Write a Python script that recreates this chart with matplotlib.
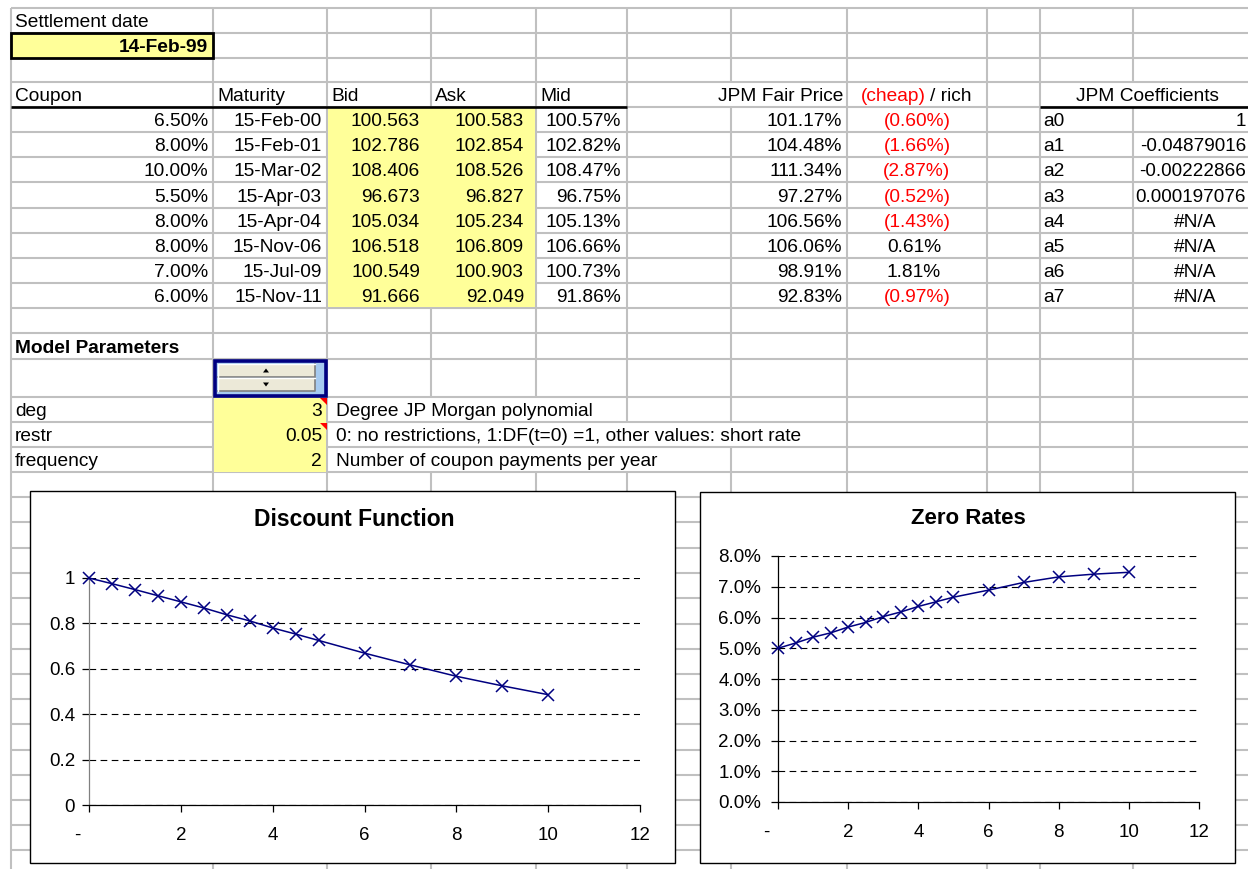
import matplotlib
matplotlib.use("Agg")
import matplotlib.pyplot as plt
from matplotlib.patches import Rectangle, Polygon
from matplotlib.collections import LineCollection

plt.rcParams['font.family'] = ['Liberation Sans', 'DejaVu Sans']

# ---------------- data ----------------
settlement_date = "14-Feb-99"
header = ["Coupon", "Maturity", "Bid", "Ask", "Mid"]
coupons = ["6.50%", "8.00%", "10.00%", "5.50%", "8.00%", "8.00%", "7.00%", "6.00%"]
maturities = ["15-Feb-00", "15-Feb-01", "15-Mar-02", "15-Apr-03",
              "15-Apr-04", "15-Nov-06", "15-Jul-09", "15-Nov-11"]
bid = [100.563, 102.786, 108.406, 96.673, 105.034, 106.518, 100.549, 91.666]
ask = [100.583, 102.854, 108.526, 96.827, 105.234, 106.809, 100.903, 92.049]
mid = [100.57, 102.82, 108.47, 96.75, 105.13, 106.66, 100.73, 91.86]
fair_price = [101.17, 104.48, 111.34, 97.27, 106.56, 106.06, 98.91, 92.83]
cheap_rich = [-0.60, -1.66, -2.87, -0.52, -1.43, 0.61, 1.81, -0.97]
coef_names = ["a0", "a1", "a2", "a3", "a4", "a5", "a6", "a7"]
coef_values = ["1", "-0.04879016", "-0.00222866", "0.000197076",
               "#N/A", "#N/A", "#N/A", "#N/A"]
param_names = ["deg", "restr", "frequency"]
param_values = ["3", "0.05", "2"]
param_desc = ["Degree JP Morgan polynomial",
              "0: no restrictions, 1:DF(t=0) =1, other values: short rate",
              "Number of coupon payments per year"]

t_years = [0, 0.5, 1, 1.5, 2, 2.5, 3, 3.5, 4, 4.5, 5, 6, 7, 8, 9, 10]
discount = [1.0, 0.975, 0.949, 0.922, 0.895, 0.868, 0.838, 0.811,
            0.780, 0.753, 0.725, 0.669, 0.617, 0.567, 0.525, 0.486]
zero_rates = [5.00, 5.17, 5.36, 5.50, 5.69, 5.84, 6.03, 6.18,
              6.36, 6.51, 6.66, 6.89, 7.14, 7.32, 7.41, 7.47]
x_ticks = [0, 2, 4, 6, 8, 10, 12]
x_tick_labels = ["-    ", "2", "4", "6", "8", "10", "12"]
df_ticks = [0, 0.2, 0.4, 0.6, 0.8, 1.0]
df_tick_labels = ["0", "0.2", "0.4", "0.6", "0.8", "1"]
zr_ticks = [0, 1, 2, 3, 4, 5, 6, 7, 8]

# ---------------- layout ----------------
W, H = 1248, 869
fig = plt.figure(figsize=(W / 100, H / 100), dpi=100)
fig.patch.set_facecolor("white")
bg = fig.add_axes([0, 0, 1, 1])
bg.set_xlim(0, W)
bg.set_ylim(H, 0)
bg.axis("off")

rows = [8, 33, 58, 82, 107, 132, 157, 182, 208, 233, 258, 283, 308, 333, 359,
        397, 422, 447, 472, 497, 522, 548, 573, 598, 624, 649, 674, 699, 724,
        750, 775, 800, 825, 850, 875]
cols = [11, 213, 327, 431, 536, 627, 731, 847, 987, 1040, 1133, 1257, 1300]

hidden_v = {(731, 3), (1133, 3),
            (431, 15), (536, 15),
            (431, 16), (536, 16), (627, 16), (731, 16),
            (431, 17), (536, 17), (627, 17)}
GRID = "#c0c0c0"
segs = []
for x in cols:
    for i in range(len(rows) - 1):
        if (x, i) in hidden_v:
            continue
        segs.append([(x, rows[i]), (x, rows[i + 1])])
for y in rows:
    segs.append([(cols[0], y), (cols[-1], y)])
bg.add_collection(LineCollection(segs, colors=GRID, linewidths=1.5, zorder=1))

YEL = "#ffff99"
# yellow regions
bg.add_patch(Rectangle((328, 108), 207, 199, facecolor=YEL, edgecolor="none", zorder=2))
bg.add_patch(Rectangle((214, 398), 112, 74, facecolor=YEL, edgecolor="none", zorder=2))
bg.add_patch(Rectangle((11, 33), 202, 25, facecolor=YEL, edgecolor="black",
                       linewidth=2.0, zorder=3))

# thick header borders
bg.plot([11, 627], [107, 107], color="black", lw=1.9, zorder=3, solid_capstyle="butt")
bg.plot([1040, 1248], [107, 107], color="black", lw=1.9, zorder=3, solid_capstyle="butt")

FS = 13.8


def txt(x, row, s, ha="left", bold=False, color="black", size=FS):
    bg.text(x, rows[row + 1] - 6.0, s, ha=ha, va="baseline", fontsize=size,
            fontweight="bold" if bold else "normal", color=color, zorder=4,
            clip_on=True)


txt(15, 0, "Settlement date")
txt(208, 1, settlement_date, ha="right", bold=True)

txt(15, 3, header[0])
txt(217, 3, header[1])
txt(331, 3, header[2])
txt(435, 3, header[3])
txt(540, 3, header[4])
txt(843, 3, "JPM Fair Price", ha="right")
txt(926, 3, "(cheap)", ha="right", color="red")
txt(930, 3, "/ rich", ha="left")
txt(1148, 3, "JPM Coefficients", ha="center")

for k in range(8):
    row = 4 + k
    txt(208, row, coupons[k], ha="right")
    txt(322, row, maturities[k], ha="right")
    txt(420, row, f"{bid[k]:.3f}", ha="right")
    txt(524, row, f"{ask[k]:.3f}", ha="right")
    txt(621, row, f"{mid[k]:.2f}%", ha="right")
    txt(842, row, f"{fair_price[k]:.2f}%", ha="right")
    v = cheap_rich[k]
    if v < 0:
        txt(917, row, f"({abs(v):.2f}%)", ha="center", color="red")
    else:
        txt(914, row, f"{v:.2f}%", ha="center")
    txt(1043, row, coef_names[k])
    cv = coef_values[k]
    if cv.startswith("#"):
        txt(1195, row, cv, ha="center")
    else:
        txt(1246, row, cv, ha="right", size=13.6)

txt(15, 13, "Model Parameters", bold=True)
for k in range(3):
    row = 15 + k
    txt(15, row, param_names[k])
    txt(322, row, param_values[k], ha="right")
    txt(336, row, param_desc[k])
# comment indicators
for row in (15, 16):
    y0 = rows[row]
    bg.add_patch(Polygon([(320, y0 + 1), (327, y0 + 1), (327, y0 + 8)],
                         closed=True, facecolor="red", edgecolor="none", zorder=5))

# spinner control
bg.add_patch(Rectangle((214.5, 360.5), 111, 35, facecolor="#a6caf0",
                       edgecolor="#000080", linewidth=2.6, zorder=5))
for (yt, yb, up) in [(364, 377, True), (378, 391, False)]:
    bg.add_patch(Rectangle((218, yt), 97, yb - yt, facecolor="#ece9d8",
                           edgecolor="none", zorder=6))
    bg.plot([218, 315, 315], [yb, yb, yt], color="#808080", lw=1.2, zorder=7)
    bg.plot([218, 218, 315], [yb, yt, yt], color="white", lw=1.0, zorder=7)
    cy = (yt + yb) / 2
    if up:
        tri = [(263, cy + 2), (269, cy + 2), (266, cy - 2)]
    else:
        tri = [(263, cy - 2), (269, cy - 2), (266, cy + 2)]
    bg.add_patch(Polygon(tri, closed=True, facecolor="black", edgecolor="none", zorder=7))

# chart frames
bg.add_patch(Rectangle((30, 491), 645, 372, facecolor="white", edgecolor="black",
                       linewidth=1.0, zorder=8))
bg.add_patch(Rectangle((700, 492), 535, 371, facecolor="white", edgecolor="black",
                       linewidth=1.0, zorder=8))
bg.text(354, 519, "Discount Function", ha="center", va="center", fontsize=16.5,
        fontweight="bold", zorder=9)
bg.text(968, 519, "Zero Rates", ha="center", va="center", fontsize=16,
        fontweight="bold", zorder=9)

NAVY = "#000080"


def style_axis(ax, left_color):
    ax.set_facecolor("none")
    for s in ("top", "right"):
        ax.spines[s].set_visible(False)
    ax.spines["left"].set_color(left_color)
    ax.spines["bottom"].set_color("black")
    ax.spines["left"].set_linewidth(0.9)
    ax.spines["bottom"].set_linewidth(0.9)
    ax.tick_params(axis="both", direction="out", length=5, width=0.9,
                   labelsize=13.5, colors="black")
    ax.tick_params(axis="x", pad=10.5)
    ax.yaxis.grid(True, color="black", linestyle=(0, (6, 4)), linewidth=0.8)
    ax.set_axisbelow(True)


# Discount function chart
ax1 = fig.add_axes([89 / W, 1 - 805 / H, (640 - 89) / W, (805 - 578) / H])
ax1.plot(t_years, discount, color=NAVY, lw=1.1, marker="x", ms=8, mew=1.1,
         clip_on=False, zorder=5)
ax1.set_xlim(0, 12)
ax1.set_ylim(0, 1)
ax1.set_xticks(x_ticks)
ax1.set_xticklabels(x_tick_labels)
ax1.set_yticks(df_ticks)
ax1.set_yticklabels(df_tick_labels)
style_axis(ax1, "#808080")
ax1.tick_params(axis="y", pad=5)

# Zero rates chart
ax2 = fig.add_axes([778 / W, 1 - 802 / H, (1199 - 778) / W, (802 - 556) / H])
ax2.plot(t_years, zero_rates, color=NAVY, lw=1.1, marker="x", ms=8, mew=1.1,
         clip_on=False, zorder=5)
ax2.set_xlim(0, 12)
ax2.set_ylim(0, 8)
ax2.set_xticks(x_ticks)
ax2.set_xticklabels(x_tick_labels)
ax2.set_yticks(zr_ticks)
ax2.set_yticklabels([f"{v:.1f}%" for v in zr_ticks])
style_axis(ax2, "black")
ax2.tick_params(axis="y", pad=7)

fig.savefig("out.png", dpi=100, facecolor="white")
